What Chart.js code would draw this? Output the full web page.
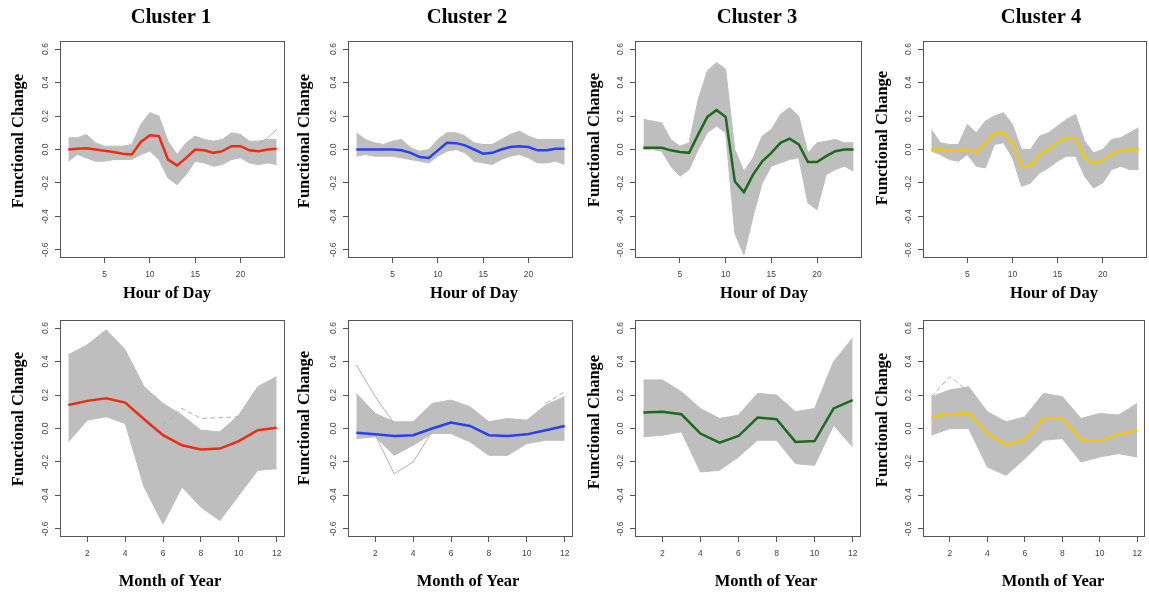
<!DOCTYPE html>
<html>
<head>
<meta charset="utf-8">
<script src="https://cdn.jsdelivr.net/npm/chart.js@4.4.1/dist/chart.umd.min.js"></script>
<style>
  html, body { margin: 0; padding: 0; background: #ffffff; }
  #wrap { position: relative; width: 1149px; height: 593px; background: #ffffff; overflow: hidden; }
  #wrap canvas { position: absolute; }
</style>
</head>
<body>
<div id="wrap"></div>
<script>
// ---------- data ----------
const hours = [1,2,3,4,5,6,7,8,9,10,11,12,13,14,15,16,17,18,19,20,21,22,23,24];
const months = [1,2,3,4,5,6,7,8,9,10,11,12];
const hourTicks = [5,10,15,20];
const monthTicks = [2,4,6,8,10,12];
const yTicks = [-0.6,-0.4,-0.2,0.0,0.2,0.4,0.6];

// Cluster 1 — hour of day
const c1HourMean  = [0.0,0.005,0.008,0.0,-0.008,-0.015,-0.025,-0.03,0.045,0.085,0.08,-0.06,-0.095,-0.05,0.0,-0.005,-0.02,-0.01,0.02,0.02,-0.005,-0.01,0.0,0.005];
const c1HourUpper = [0.07,0.07,0.09,0.04,0.02,0.02,0.02,0.03,0.15,0.22,0.2,0.05,-0.03,0.04,0.08,0.06,0.05,0.06,0.1,0.09,0.05,0.05,0.06,0.06];
const c1HourLower = [-0.07,-0.03,-0.05,-0.07,-0.07,-0.06,-0.06,-0.06,-0.03,-0.01,-0.06,-0.17,-0.21,-0.15,-0.07,-0.08,-0.1,-0.09,-0.06,-0.05,-0.08,-0.09,-0.08,-0.09];
const c1HourOutlier = [null,null,null,null,null,null,null,null,null,null,null,null,null,null,null,null,null,null,null,null,null,0.03,0.07,0.12];

// Cluster 2 — hour of day
const c2HourMean  = [0.0,0.0,0.0,0.0,0.0,-0.005,-0.02,-0.045,-0.05,-0.005,0.04,0.038,0.025,0.0,-0.025,-0.02,0.0,0.015,0.02,0.015,-0.005,-0.005,0.005,0.005];
const c2HourUpper = [0.1,0.06,0.04,0.03,0.05,0.06,0.01,-0.01,0.0,0.06,0.1,0.1,0.08,0.04,0.03,0.03,0.06,0.09,0.11,0.08,0.06,0.06,0.06,0.06];
const c2HourLower = [-0.04,-0.03,-0.04,-0.04,-0.04,-0.05,-0.06,-0.07,-0.08,-0.04,-0.01,0.0,-0.02,-0.07,-0.08,-0.09,-0.06,-0.04,-0.03,-0.05,-0.08,-0.08,-0.07,-0.09];

// Cluster 3 — hour of day
const c3HourMean  = [0.01,0.01,0.01,-0.005,-0.015,-0.02,0.09,0.195,0.235,0.195,-0.19,-0.255,-0.15,-0.07,-0.02,0.04,0.065,0.03,-0.075,-0.075,-0.04,-0.01,0.0,0.0];
const c3HourUpper = [0.18,0.17,0.16,0.06,0.02,0.04,0.3,0.47,0.52,0.48,0.0,-0.13,-0.05,0.08,0.12,0.21,0.25,0.2,-0.02,0.04,0.05,0.06,0.04,0.04];
const c3HourLower = [0.0,0.0,-0.01,-0.1,-0.16,-0.12,0.0,0.1,0.14,0.1,-0.5,-0.63,-0.4,-0.2,-0.1,-0.08,-0.06,-0.05,-0.32,-0.36,-0.15,-0.12,-0.1,-0.13];

// Cluster 4 — hour of day
const c4HourMean  = [0.0,0.0,-0.005,-0.005,0.0,-0.02,0.04,0.095,0.1,0.035,-0.1,-0.1,-0.03,0.0,0.045,0.07,0.065,-0.05,-0.085,-0.065,-0.03,-0.005,0.0,0.0];
const c4HourUpper = [0.12,0.04,0.03,0.03,0.15,0.1,0.17,0.2,0.22,0.15,0.0,0.0,0.08,0.1,0.14,0.18,0.21,0.05,-0.02,0.0,0.06,0.07,0.1,0.13];
const c4HourLower = [-0.01,-0.03,-0.06,-0.07,-0.03,-0.1,-0.11,0.03,0.04,-0.05,-0.22,-0.2,-0.14,-0.11,-0.07,-0.04,-0.04,-0.16,-0.23,-0.2,-0.12,-0.1,-0.12,-0.12];

// Cluster 1 — month of year
const c1MonthMean  = [0.14,0.165,0.18,0.155,0.055,-0.04,-0.1,-0.125,-0.12,-0.075,-0.01,0.005];
const c1MonthUpper = [0.44,0.5,0.59,0.47,0.25,0.15,0.08,-0.01,-0.02,0.08,0.25,0.31];
const c1MonthLower = [-0.08,0.05,0.07,0.03,-0.35,-0.57,-0.35,-0.47,-0.55,-0.4,-0.25,-0.24];
const c1MonthOutlier = [null,null,null,null,null,0.02,0.12,0.06,0.065,0.07,null,null];

// Cluster 2 — month of year
const c2MonthMean  = [-0.025,-0.035,-0.045,-0.04,0.0,0.035,0.015,-0.04,-0.045,-0.035,-0.01,0.015];
const c2MonthUpper = [0.21,0.09,0.04,0.04,0.15,0.17,0.13,0.04,0.06,0.05,0.14,0.19];
const c2MonthLower = [-0.06,-0.05,-0.16,-0.1,-0.03,-0.03,-0.08,-0.16,-0.16,-0.09,-0.07,-0.07];
const c2MonthOutlierA = [0.38,0.19,0.03,null,null,null,null,null,null,null,null,null];
const c2MonthOutlierB = [null,-0.04,-0.27,-0.2,-0.02,null,null,null,null,null,null,null];
const c2MonthOutlierC = [null,null,null,null,null,null,null,null,null,null,0.15,0.22];

// Cluster 3 — month of year
const c3MonthMean  = [0.095,0.1,0.085,-0.03,-0.085,-0.045,0.065,0.055,-0.08,-0.075,0.12,0.17];
const c3MonthUpper = [0.29,0.29,0.22,0.12,0.06,0.08,0.21,0.2,0.1,0.12,0.4,0.54];
const c3MonthLower = [-0.05,-0.04,-0.02,-0.26,-0.25,-0.17,-0.07,-0.07,-0.21,-0.22,0.02,-0.11];

// Cluster 4 — month of year
const c4MonthMean  = [0.07,0.085,0.09,-0.03,-0.1,-0.065,0.06,0.06,-0.065,-0.075,-0.035,-0.01];
const c4MonthUpper = [0.19,0.23,0.25,0.1,0.04,0.07,0.21,0.19,0.06,0.09,0.08,0.15];
const c4MonthLower = [-0.04,0.0,0.0,-0.23,-0.28,-0.18,-0.07,-0.06,-0.2,-0.17,-0.15,-0.17];
const c4MonthOutlier = [0.19,0.31,0.22,null,null,null,null,null,null,null,null,null];

// ---------- styles / layout ----------
const GRAY = '#bebebe';
const RED = '#ee2c12';
const BLUE = '#2840f0';
const GREEN = '#1a6b1a';
const GOLD = '#f2c80f';
const AXIS = '#555555';
const SERIF = '"Liberation Serif", "Times New Roman", serif';
const SANS = '"Liberation Sans", Arial, sans-serif';
const Y_AXIS_W = 30;
const X_AXIS_H = 30;

const panels = [
  {x:hours, xTicks:hourTicks, mean:c1HourMean, upper:c1HourUpper, lower:c1HourLower, outliers:[[c1HourOutlier,[]]], color:RED,
   title:'Cluster 1', xTitle:'Hour of Day', cell:[0,0,290,308], box:[60,285,41,258], tPos:[171,18], yPos:[19,141], xPos:[167,294]},
  {x:hours, xTicks:hourTicks, mean:c2HourMean, upper:c2HourUpper, lower:c2HourLower, outliers:[], color:BLUE,
   title:'Cluster 2', xTitle:'Hour of Day', cell:[290,0,290,308], box:[348,573,41,258], tPos:[467,18], yPos:[305,141], xPos:[474,294]},
  {x:hours, xTicks:hourTicks, mean:c3HourMean, upper:c3HourUpper, lower:c3HourLower, outliers:[], color:GREEN,
   title:'Cluster 3', xTitle:'Hour of Day', cell:[580,0,290,308], box:[635,862,41,258], tPos:[757,18], yPos:[595,140], xPos:[764,294]},
  {x:hours, xTicks:hourTicks, mean:c4HourMean, upper:c4HourUpper, lower:c4HourLower, outliers:[], color:GOLD,
   title:'Cluster 4', xTitle:'Hour of Day', cell:[870,0,279,308], box:[923,1147,41,258], tPos:[1041,18], yPos:[883,138], xPos:[1054,294]},
  {x:months, xTicks:monthTicks, mean:c1MonthMean, upper:c1MonthUpper, lower:c1MonthLower, outliers:[[c1MonthOutlier,[5,3]]], color:RED,
   title:'', xTitle:'Month of Year', cell:[0,308,290,285], box:[60,285,320,537], tPos:null, yPos:[19,419], xPos:[170,582]},
  {x:months, xTicks:monthTicks, mean:c2MonthMean, upper:c2MonthUpper, lower:c2MonthLower,
   outliers:[[c2MonthOutlierA,[]],[c2MonthOutlierB,[]],[c2MonthOutlierC,[5,3]]], color:BLUE,
   title:'', xTitle:'Month of Year', cell:[290,308,290,285], box:[348,573,320,537], tPos:null, yPos:[305,418], xPos:[468,582]},
  {x:months, xTicks:monthTicks, mean:c3MonthMean, upper:c3MonthUpper, lower:c3MonthLower, outliers:[], color:GREEN,
   title:'', xTitle:'Month of Year', cell:[580,308,290,285], box:[635,861,320,537], tPos:null, yPos:[595,422], xPos:[766,582]},
  {x:months, xTicks:monthTicks, mean:c4MonthMean, upper:c4MonthUpper, lower:c4MonthLower, outliers:[[c4MonthOutlier,[5,3]]], color:GOLD,
   title:'', xTitle:'Month of Year', cell:[870,308,279,285], box:[923,1147,320,537], tPos:null, yPos:[883,420], xPos:[1053,582]}
];

function pts(xs, ys) { return xs.map((x, i) => ({x: x, y: ys[i]})); }

const decor = {
  id: 'decor',
  afterDatasetsDraw(chart, args, opts) {
    const ctx = chart.ctx;
    const a = chart.chartArea;
    ctx.save();
    ctx.strokeStyle = AXIS;
    ctx.lineWidth = 1;
    ctx.strokeRect(Math.round(a.left) + 0.5, Math.round(a.top) + 0.5, Math.round(a.right - a.left) - 1, Math.round(a.bottom - a.top) - 1);
    ctx.restore();
  },
  afterDraw(chart, args, opts) {
    const p = opts.panel;
    const ctx = chart.ctx;
    const ox = p.cell[0], oy = p.cell[1];
    ctx.save();
    ctx.fillStyle = '#000000';
    ctx.textAlign = 'center';
    ctx.textBaseline = 'middle';
    if (p.title) {
      ctx.font = 'bold 20.5px ' + SERIF;
      ctx.fillText(p.title, p.tPos[0] - ox, p.tPos[1] - oy);
    }
    ctx.font = 'bold 16.5px ' + SERIF;
    ctx.fillText(p.xTitle, p.xPos[0] - ox, p.xPos[1] - oy);
    ctx.translate(p.yPos[0] - ox, p.yPos[1] - oy);
    ctx.rotate(-Math.PI / 2);
    ctx.fillText('Functional Change', 0, 0);
    ctx.restore();
  }
};

const wrap = document.getElementById('wrap');
panels.forEach((p) => {
  const cv = document.createElement('canvas');
  const [cl, ct, cw, ch] = p.cell;
  cv.width = cw; cv.height = ch;
  cv.style.left = cl + 'px'; cv.style.top = ct + 'px';
  cv.style.width = cw + 'px'; cv.style.height = ch + 'px';
  wrap.appendChild(cv);

  const [bl, br, bt, bb] = p.box;
  const x0 = p.x[0], x1 = p.x[p.x.length - 1];
  const ext = (x1 - x0) * 0.04;

  // Chart.js paints higher `order` first, so the band goes underneath and the mean on top.
  const datasets = [
    {data: pts(p.x, p.lower), borderColor: GRAY, borderWidth: 1, pointRadius: 0, fill: false, tension: 0, order: 3},
    {data: pts(p.x, p.upper), borderColor: GRAY, borderWidth: 1, pointRadius: 0, fill: '-1', backgroundColor: GRAY, tension: 0, order: 2}
  ];
  p.outliers.forEach(([arr, dash]) => {
    datasets.push({data: pts(p.x, arr), borderColor: '#b0b0b0', borderWidth: 1, borderDash: dash, pointRadius: 0, fill: false, spanGaps: false, tension: 0, order: 1});
  });
  datasets.push({data: pts(p.x, p.mean), borderColor: p.color, borderWidth: 2.5, pointRadius: 0, fill: false, tension: 0, order: 0});

  new Chart(cv, {
    type: 'line',
    data: {datasets},
    options: {
      responsive: false,
      animation: false,
      devicePixelRatio: 1,
      layout: {padding: {left: bl - cl - Y_AXIS_W, right: cl + cw - br, top: bt - ct, bottom: ct + ch - bb - X_AXIS_H}},
      plugins: {legend: {display: false}, tooltip: {enabled: false}, title: {display: false}, decor: {panel: p}},
      scales: {
        x: {
          type: 'linear', min: x0 - ext, max: x1 + ext,
          afterBuildTicks: (s) => { s.ticks = p.xTicks.map(v => ({value: v})); },
          afterFit: (s) => { s.height = X_AXIS_H; },
          grid: {drawOnChartArea: false, drawTicks: true, tickLength: 5, color: AXIS},
          border: {display: false},
          ticks: {font: {family: SANS, size: 8.5}, color: '#444444', padding: 7, maxRotation: 0, minRotation: 0, autoSkip: false,
                  callback: (v) => String(v)}
        },
        y: {
          type: 'linear', min: -0.648, max: 0.648,
          afterBuildTicks: (s) => { s.ticks = yTicks.map(v => ({value: v})); },
          afterFit: (s) => { s.width = Y_AXIS_W; },
          grid: {drawOnChartArea: false, drawTicks: true, tickLength: 5, color: AXIS},
          border: {display: false},
          ticks: {font: {family: SANS, size: 8.5}, color: '#444444', padding: 2, minRotation: 90, maxRotation: 90, crossAlign: 'center', autoSkip: false,
                  callback: (v) => Number(v).toFixed(1)}
        }
      }
    },
    plugins: [decor]
  });
});
</script>
</body>
</html>
